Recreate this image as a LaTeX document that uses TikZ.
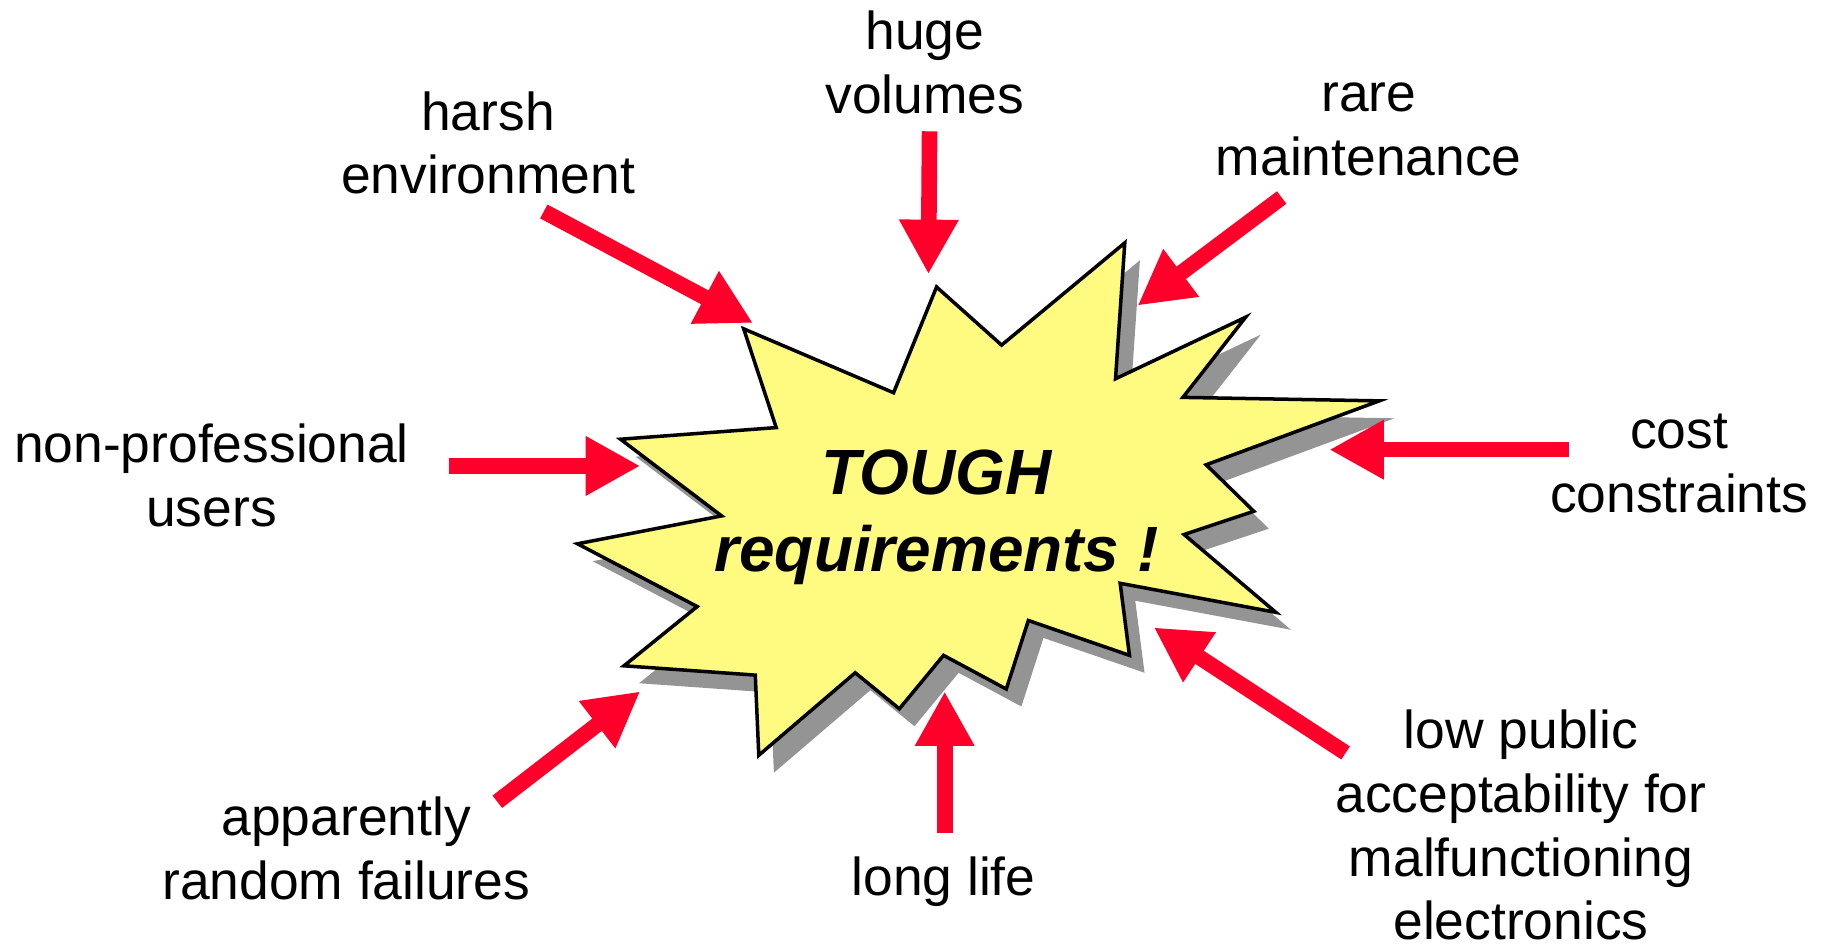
\documentclass[tikz,border=0pt]{standalone}
\usepackage{fontspec}
\setmainfont{Liberation Sans}
\usetikzlibrary{arrows.meta}

\begin{document}
\begin{tikzpicture}[x=0.01162cm, y=-0.01162cm]

    % Colours
    \definecolor{burstyellow}{RGB}{255, 250, 128} % yellow of the burst
    \definecolor{shadowgray}{RGB}{148, 148, 148}  % grey of the shadow
    \definecolor{arrowred}{RGB}{255, 0, 42}       % red of the arrows

    \tikzset{
        reqtext/.style={font=\fontsize{15.2}{18.2}\selectfont, align=center, inner sep=0pt},
        redarrow/.style={-{Triangle[length=0.546cm, width=0.558cm]}, line width=4.45pt, arrowred}
    }

    \useasboundingbox (0,0) rectangle (1568,817);

    % 1. Burst outline (shared by shadow and burst)
    \def\burstpath{(806,247) -- (862,297) -- (968,209) -- (960,326) -- (1072,273)
        -- (1018,342) -- (1187,345) -- (1038,400) -- (1079,440) -- (1019,460)
        -- (1098,527) -- (964,502) -- (972,564) -- (885,534) -- (866,593)
        -- (812,564) -- (774,610) -- (736,579) -- (653,650) -- (650,581)
        -- (537,573) -- (600,522) -- (497,468) -- (621,444) -- (534,378)
        -- (668,368) -- (640,283) -- (769,338) -- cycle}

    % 2. Shadow, then the burst itself
    \fill[shadowgray, shift={(13,15)}] \burstpath;
    \filldraw[fill=burstyellow, draw=black, line width=1pt, line join=miter] \burstpath;

    \node[font=\bfseries\itshape\fontsize{18.2}{21.8}\selectfont, align=center, inner sep=0pt]
        (tough) at (806,445) {TOUGH\\requirements !};

    % 3. Arrow ends
    \coordinate (volumes-tail) at (800,113);   \coordinate (volumes-tip) at (799,236);
    \coordinate (harsh-tail) at (468,182);     \coordinate (harsh-tip) at (648,278);
    \coordinate (rare-tail) at (1103,170);     \coordinate (rare-tip) at (979,263);
    \coordinate (users-tail) at (386,401);     \coordinate (users-tip) at (551,401);
    \coordinate (cost-tail) at (1350,387);     \coordinate (cost-tip) at (1144,387);
    \coordinate (random-tail) at (428,690);    \coordinate (random-tip) at (551,595);
    \coordinate (life-tail) at (813,717);      \coordinate (life-tip) at (813,595);
    \coordinate (public-tail) at (1158,648);   \coordinate (public-tip) at (993,540);

    % 4. Arrows
    \draw[redarrow] (volumes-tail) -- (volumes-tip);
    \draw[redarrow] (harsh-tail) -- (harsh-tip);
    \draw[redarrow] (rare-tail) -- (rare-tip);
    \draw[redarrow] (users-tail) -- (users-tip);
    \draw[redarrow] (cost-tail) -- (cost-tip);
    \draw[redarrow] (random-tail) -- (random-tip);
    \draw[redarrow] (life-tail) -- (life-tip);
    \draw[redarrow] (public-tail) -- (public-tip);

    % 5. Texts
    \node[reqtext] (volumes) at (796,54) {huge\\volumes};
    \node[reqtext] (harsh) at (420,123) {harsh\\environment};
    \node[reqtext] (rare) at (1178,111) {rare\\maintenance};
    \node[reqtext] (users) at (182,409) {non-professional\\users};
    \node[reqtext] (cost) at (1445,399) {cost\\constraints};
    \node[reqtext] (random) at (298,730) {apparently\\random failures};
    \node[reqtext] (life) at (812,759) {long life};
    \node[reqtext] (public) at (1309,710) {low public\\acceptability for\\malfunctioning\\electronics};

\end{tikzpicture}
\end{document}
